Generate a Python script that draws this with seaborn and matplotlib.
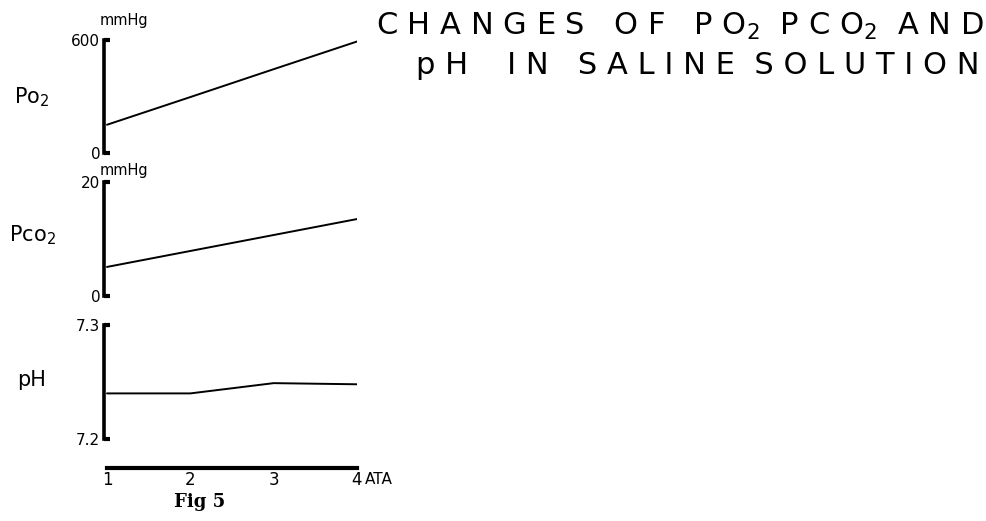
import numpy as np
import pandas as pd
import matplotlib.pyplot as plt
import seaborn as sns

# -------------------------------
# Data
# -------------------------------
ata = [1, 2, 3, 4]
po2 = [150, 297, 445, 592]          # mmHg
pco2 = [5.1, 7.9, 10.7, 13.5]       # mmHg
ph = [7.240, 7.240, 7.249, 7.248]

df = pd.DataFrame({"ATA": ata, "PO2": po2, "PCO2": pco2, "pH": ph})

sns.set_style("white")
plt.rcParams['font.family'] = ['DejaVu Sans']
plt.rcParams['text.color'] = 'black'
plt.rcParams['xtick.color'] = 'black'
plt.rcParams['ytick.color'] = 'black'

fig = plt.figure(figsize=(9.87, 5.21), dpi=100)
W, H = 987, 521


def box(left, top, right, bottom):
    return [left / W, 1 - bottom / H, (right - left) / W, (bottom - top) / H]


XL, XR = 104.5, 357
ax1 = fig.add_axes(box(XL, 40, XR, 153))
ax2 = fig.add_axes(box(XL, 182, XR, 296))
ax3 = fig.add_axes(box(XL, 325, XR, 439))

panels = [
    (ax1, "PO2", (0, 600), ["0", "600"], "P$\\mathregular{o_2}$", 97, 20),
    (ax2, "PCO2", (0, 20), ["0", "20"], "P$\\mathregular{co_2}$", 235, 170),
    (ax3, "pH", (7.2, 7.3), ["7.2", "7.3"], "pH", 380, None),
]

for ax, col, lim, labs, name, ylab_y, unit_y in panels:
    sns.lineplot(data=df, x="ATA", y=col, ax=ax, color="black", lw=1.4)
    ax.set_xlim(0.97, 4.0)
    ax.set_ylim(*lim)
    ax.set_yticks(lim)
    ax.set_yticklabels(labs, fontsize=11)
    ax.tick_params(axis="y", direction="in", length=4, width=3, pad=3, left=True)
    for s in ["top", "right", "bottom"]:
        ax.spines[s].set_visible(False)
    ax.spines["left"].set_linewidth(2.6)
    ax.spines["left"].set_color("black")
    ax.set_xlabel("")
    ax.set_ylabel("")
    ax.set_facecolor("none")
    fig.text(32 / W, 1 - ylab_y / H, name, fontsize=15, ha="center", va="center")
    if unit_y is not None:
        fig.text(100 / W, 1 - unit_y / H, "mmHg", fontsize=10.5,
                 ha="left", va="center")
    if ax is not ax3:
        ax.set_xticks([])

# Bottom ATA axis
ax3.spines["bottom"].set_visible(True)
ax3.spines["bottom"].set_position(("outward", 21))
ax3.spines["bottom"].set_bounds(1, 4)
ax3.spines["bottom"].set_linewidth(3)
ax3.spines["bottom"].set_color("black")
ax3.set_xticks(ata)
ax3.set_xticklabels([str(a) for a in ata], fontsize=12)
ax3.tick_params(axis="x", length=0, pad=2)
fig.text(365 / W, 1 - 480 / H, "ATA", fontsize=11, ha="left", va="center")
fig.text(200 / W, 1 - 502 / H, "Fig 5", fontsize=13, fontweight="bold",
         family="DejaVu Serif", ha="center", va="center")

# Title
fig.text(984 / W, 1 - 26 / H, "C H A N G E S   O F   P O$_2$  P C O$_2$  A N D",
         fontsize=22, ha="right", va="center")
fig.text(980 / W, 1 - 65 / H, "p H    I N   S A L I N E  S O L U T I O N",
         fontsize=22, ha="right", va="center")

fig.savefig("out.png", dpi=100)
